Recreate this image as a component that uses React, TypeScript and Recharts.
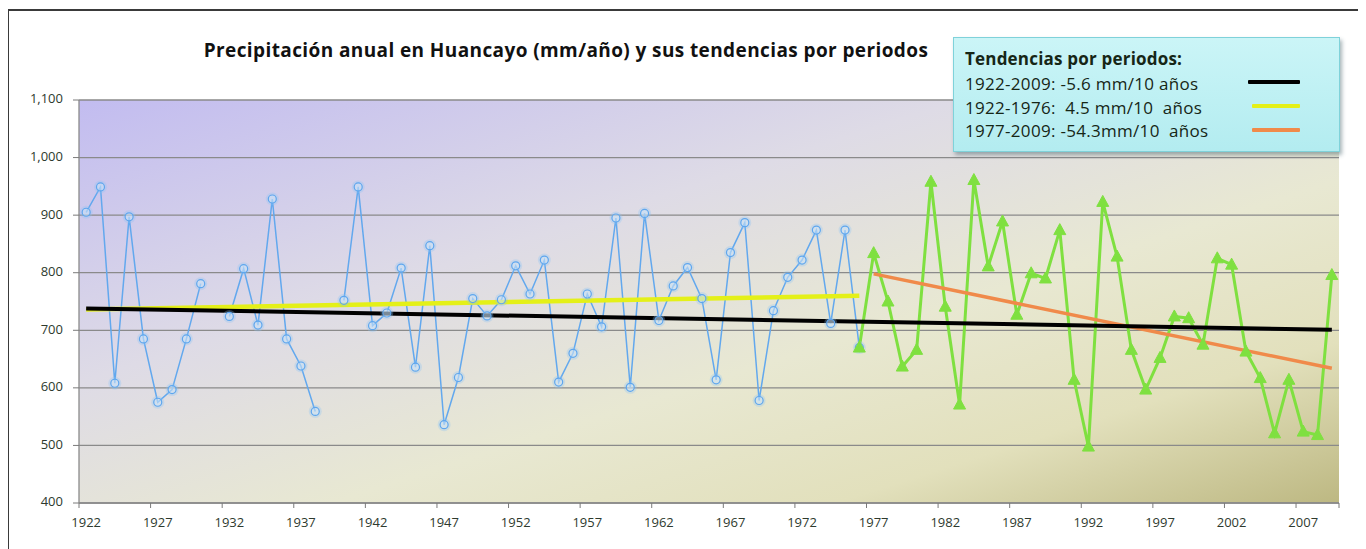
import React from 'react';
import { LineChart, Line, XAxis, YAxis, CartesianGrid } from 'recharts';

const years = [
  1922, 1923, 1924, 1925, 1926, 1927, 1928, 1929, 1930, 1931,
  1932, 1933, 1934, 1935, 1936, 1937, 1938, 1939, 1940, 1941,
  1942, 1943, 1944, 1945, 1946, 1947, 1948, 1949, 1950, 1951,
  1952, 1953, 1954, 1955, 1956, 1957, 1958, 1959, 1960, 1961,
  1962, 1963, 1964, 1965, 1966, 1967, 1968, 1969, 1970, 1971,
  1972, 1973, 1974, 1975, 1976, 1977, 1978, 1979, 1980, 1981,
  1982, 1983, 1984, 1985, 1986, 1987, 1988, 1989, 1990, 1991,
  1992, 1993, 1994, 1995, 1996, 1997, 1998, 1999, 2000, 2001,
  2002, 2003, 2004, 2005, 2006, 2007, 2008, 2009,
];

// 1922-1976 (blue, circles); null = missing year
const precipEarly: (number | null)[] = [
  905, 949, 608, 897, 685, 575, 597, 685, 781, null,
  724, 807, 709, 928, 685, 638, 559, null, 752, 949,
  708, 730, 808, 636, 847, 536, 618, 755, 725, 753,
  812, 763, 822, 610, 660, 763, 706, 895, 601, 903,
  717, 777, 809, 755, 614, 835, 887, 578, 734, 792,
  822, 874, 712, 874, 670,
];
const earlyStartYear = 1922;

// 1976-2009 (green, triangles)
const precipLate: number[] = [
  670, 834, 750, 637, 666, 958, 741, 571, 961, 811,
  889, 727, 799, 790, 874, 614, 498, 923, 828, 666,
  597, 652, 724, 721, 675, 825, 814, 663, 617, 521,
  614, 524, 518, 796,
];
const lateStartYear = 1976;

// trend lines: [start year, end year] and [start value, end value]
const trendAllYears = [1922, 2009];
const trendAllValues = [738, 701];
const trendEarlyYears = [1922, 1976];
const trendEarlyValues = [736, 760];
const trendLateYears = [1977, 2009];
const trendLateValues = [798, 634];

const xTickLabels = [1922, 1927, 1932, 1937, 1942, 1947, 1952, 1957, 1962, 1967, 1972, 1977, 1982, 1987, 1992, 1997, 2002, 2007];
const yTicks = [400, 500, 600, 700, 800, 900, 1000, 1100];

const legendTitle = 'Tendencias por periodos:';
const legendItems = [
  { label: '1922-2009: -5.6 mm/10 años', color: '#000000' },
  { label: '1922-1976:  4.5 mm/10  años', color: '#e4f018' },
  { label: '1977-2009: -54.3mm/10  años', color: '#f08a4a' },
];
const title = 'Precipitación anual en Huancayo (mm/año) y sus tendencias por periodos';

const trendValue = (yrs: number[], vals: number[], y: number) => {
  const i = yrs.indexOf(y);
  return i >= 0 ? vals[i] : null;
};

const data = years.map((year) => {
  const ei = year - earlyStartYear;
  const li = year - lateStartYear;
  return {
    year,
    early: ei >= 0 && ei < precipEarly.length ? precipEarly[ei] : null,
    late: li >= 0 && li < precipLate.length ? precipLate[li] : null,
    tAll: trendValue(trendAllYears, trendAllValues, year),
    tEarly: trendValue(trendEarlyYears, trendEarlyValues, year),
    tLate: trendValue(trendLateYears, trendLateValues, year),
  };
});

// ticks: labels at category centres, tick marks at 5-year boundaries
const xTicks: number[] = [];
xTickLabels.forEach((y) => {
  xTicks.push(y - 0.5);
  xTicks.push(y);
});
xTicks.push(2009.5);

const FONT = '"Open Sans", "DejaVu Sans", sans-serif';

const XTick = (props: any) => {
  const { x, y, payload } = props;
  const v = payload.value as number;
  if (Math.round(v) !== v) {
    return <line x1={x} y1={y} x2={x} y2={y + 5} stroke="#7a7a7a" strokeWidth={1} />;
  }
  return (
    <text x={x} y={y + 21} textAnchor="middle" dominantBaseline="middle" fontFamily={FONT} fontSize={13} fill="#2e3a2e">
      {v}
    </text>
  );
};

const YTick = (props: any) => {
  const { x, y, payload } = props;
  const v = payload.value as number;
  return (
    <g>
      <line x1={x - 6} y1={y} x2={x} y2={y} stroke="#7a7a7a" strokeWidth={1} />
      <text x={x - 16} y={y} textAnchor="end" dominantBaseline="middle" fontFamily={FONT} fontSize={13} fill="#2e3a2e">
        {v.toLocaleString('en-US')}
      </text>
    </g>
  );
};

const Triangle = (props: any) => {
  const { cx, cy, value, index } = props;
  if (cx == null || cy == null || value == null) return <g key={`t${index}`} />;
  return (
    <path
      key={`t${index}`}
      d={`M${cx},${cy - 6.5} L${cx + 6},${cy + 4.5} L${cx - 6},${cy + 4.5} Z`}
      fill="#7fe040"
      stroke="#7fe040"
      strokeWidth={1}
    />
  );
};

const Circle = (props: any) => {
  const { cx, cy, value, index } = props;
  if (cx == null || cy == null || value == null) return <g key={`c${index}`} />;
  return (
    <g key={`c${index}`}>
      <circle cx={cx} cy={cy} r={6.5} fill="#8cc4f6" fillOpacity={0.3} />
      <circle cx={cx} cy={cy} r={4} fill="#dceaf8" fillOpacity={0.45} stroke="#5ea6ee" strokeWidth={1.2} />
    </g>
  );
};

export default function App() {
  return (
    <div style={{ position: 'relative', width: 1352, height: 560 }}>
      <LineChart
        width={1352}
        height={541}
        data={data}
        margin={{ top: 92, right: 21, bottom: 14, left: 0 }}
        style={{ position: 'absolute', left: 0, top: 0 }}
      >
        <defs>
          <linearGradient id="plotBg" x1="0" y1="0" x2="1" y2="1">
            <stop offset="0%" stopColor="#c2bcf0" />
            <stop offset="35%" stopColor="#dedbe6" />
            <stop offset="60%" stopColor="#e8e8d2" />
            <stop offset="80%" stopColor="#e2e0bc" />
            <stop offset="100%" stopColor="#bdb882" />
          </linearGradient>
        </defs>
        <CartesianGrid vertical={false} stroke="#8a8a8a" strokeWidth={1.3} fill="url(#plotBg)" fillOpacity={1} />
        <XAxis
          dataKey="year"
          type="number"
          domain={[1921.5, 2009.5]}
          ticks={xTicks}
          interval={0}
          tick={<XTick />}
          tickLine={false}
          tickSize={0}
          tickMargin={0}
          axisLine={{ stroke: '#8a8a8a', strokeWidth: 1.3 }}
          height={32}
          allowDataOverflow
        />
        <YAxis
          domain={[400, 1100]}
          ticks={yTicks}
          interval={0}
          width={71}
          tickSize={0}
          tickMargin={0}
          tickLine={false}
          axisLine={{ stroke: '#8a8a8a', strokeWidth: 1.3 }}
          tick={<YTick />}
        />
        <Line
          dataKey="early"
          stroke="#62a8ee"
          strokeWidth={1.5}
          dot={<Circle />}
          connectNulls={false}
          isAnimationActive={false}
        />
        <Line
          dataKey="late"
          stroke="#7fe040"
          strokeWidth={3}
          dot={<Triangle />}
          connectNulls={false}
          isAnimationActive={false}
        />
        <Line dataKey="tEarly" stroke="#e4f018" strokeWidth={4.5} dot={false} connectNulls isAnimationActive={false} />
        <Line dataKey="tLate" stroke="#f08a4a" strokeWidth={3.5} dot={false} connectNulls isAnimationActive={false} />
        <Line dataKey="tAll" stroke="#000000" strokeWidth={4} dot={false} connectNulls isAnimationActive={false} />
      </LineChart>

      <div
        style={{
          position: 'absolute',
          left: 0,
          top: 27,
          width: 1116,
          textAlign: 'center',
          fontFamily: FONT,
          fontWeight: 700,
          fontSize: 19,
          letterSpacing: 0.4,
          color: '#111',
          lineHeight: '30px',
          whiteSpace: 'nowrap',
        }}
      >
        {title}
      </div>

      <div
        style={{
          position: 'absolute',
          left: 945,
          top: 29,
          width: 387,
          height: 115,
          boxSizing: 'border-box',
          background: 'linear-gradient(180deg, #cbf5f7 0%, #b3ecf0 100%)',
          border: '1px solid #7fd2da',
          boxShadow: '2px 3px 4px rgba(60,90,100,0.45)',
          fontFamily: FONT,
          color: '#162616',
        }}
      >
        <div style={{ position: 'absolute', left: 11, top: 11, fontWeight: 700, fontSize: 17, letterSpacing: 0.2, lineHeight: '20px', whiteSpace: 'nowrap' }}>
          {legendTitle}
        </div>
        {legendItems.map((it, i) => (
          <div key={i} style={{ position: 'absolute', left: 11, top: 36 + i * 23.5, fontSize: 17, letterSpacing: 0.3, lineHeight: '20px', whiteSpace: 'pre' }}>
            {it.label}
          </div>
        ))}
        {legendItems.map((it, i) => (
          <div
            key={`s${i}`}
            style={{
              position: 'absolute',
              left: i === 0 ? 294 : 298,
              top: 42 + i * 24,
              width: i === 0 ? 52 : 48,
              height: 4,
              background: it.color,
              borderRadius: 1,
            }}
          />
        ))}
      </div>

      <div
        style={{
          position: 'absolute',
          left: -1,
          top: 1,
          width: 1354,
          height: 600,
          boxSizing: 'border-box',
          border: '2px solid #3a3a3a',
          pointerEvents: 'none',
        }}
      />
    </div>
  );
}
